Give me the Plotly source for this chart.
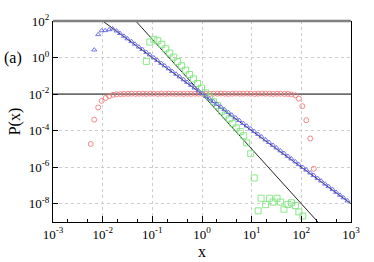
import numpy as np
import plotly.graph_objects as go

# ---------------- data (log10 values) ----------------
red_logx = [-2.24, -2.17, -2.09, -2.02, -1.94, -1.87, -1.79,
            -1.72, -1.64, -1.57, -1.49, -1.42, -1.34, -1.27, -1.19, -1.12, -1.04,
            -0.97, -0.89, -0.82, -0.74, -0.67, -0.59, -0.52, -0.44, -0.37, -0.29,
            -0.22, -0.14, -0.07, 0.01, 0.08, 0.16, 0.23, 0.31, 0.38, 0.46,
            0.53, 0.61, 0.68, 0.76, 0.83, 0.91, 0.98, 1.06, 1.13, 1.21,
            1.28, 1.36, 1.43, 1.51, 1.58, 1.66, 1.73,
            1.80, 1.88, 1.95, 2.02, 2.10, 2.18, 2.25]
red_logy = [-4.73, -3.40, -2.73, -2.37, -2.21, -2.11, -2.04,
            -2.01, -2.00, -1.99, -1.99, -1.98, -1.99, -1.98, -1.98, -1.99, -1.98,
            -1.98, -1.99, -1.98, -1.99, -1.98, -1.98, -1.99, -1.98, -1.99, -1.98,
            -1.99, -1.98, -1.98, -1.99, -1.98, -1.99, -1.98, -1.98, -1.97, -1.98,
            -1.99, -1.98, -1.97, -1.98, -1.98, -1.97, -1.98, -1.99, -1.98, -1.97,
            -1.98, -1.98, -1.99, -1.98, -1.98, -1.99, -1.99,
            -2.02, -2.07, -2.25, -2.66, -3.43, -4.43, -6.09]

blue_logx = [-2.17, -2.09, -2.02, -1.95, -1.87, -1.80, -1.72, -1.65, -1.57, -1.50,
             -1.42, -1.35, -1.27, -1.20, -1.12, -1.05, -0.97, -0.90, -0.82, -0.75,
             -0.67, -0.60, -0.52, -0.45, -0.37, -0.30, -0.22, -0.15, -0.07, 0.00,
             0.08, 0.15, 0.23, 0.30, 0.38, 0.45, 0.53, 0.60, 0.68, 0.75,
             0.83, 0.90, 0.98, 1.05, 1.13, 1.20, 1.28, 1.35, 1.43, 1.50,
             1.58, 1.65, 1.73, 1.80, 1.88, 1.95, 2.03, 2.10, 2.18, 2.25,
             2.33, 2.40, 2.48, 2.55, 2.63, 2.70, 2.78, 2.85, 2.93]
blue_logy = [0.42, 1.26, 1.47, 1.48, 1.53, 1.58, 1.46, 1.32, 1.17, 1.03,
             0.88, 0.74, 0.58, 0.45, 0.29, 0.15, -0.01, -0.15, -0.31, -0.45,
             -0.61, -0.75, -0.91, -1.05, -1.21, -1.35, -1.51, -1.66, -1.82, -1.97,
             -2.13, -2.26, -2.41, -2.55, -2.70, -2.84, -3.00, -3.14, -3.30, -3.44,
             -3.60, -3.74, -3.90, -4.04, -4.20, -4.34, -4.50, -4.64, -4.80, -4.94,
             -5.10, -5.24, -5.40, -5.54, -5.70, -5.85, -6.01, -6.15, -6.31, -6.45,
             -6.61, -6.75, -6.92, -7.06, -7.22, -7.37, -7.53, -7.67, -7.84]

green_logx = [-1.12, -1.05, -0.97, -0.89, -0.81, -0.73, -0.65, -0.57, -0.49, -0.41,
              -0.33, -0.25, -0.17, -0.09, -0.01, 0.07, 0.15, 0.23, 0.31, 0.39,
              0.47, 0.55, 0.62, 0.69, 0.77, 0.84, 0.90, 0.98, 1.05,
              1.13, 1.19, 1.28, 1.36, 1.43, 1.51, 1.58, 1.65, 1.73, 1.80,
              1.88, 1.95, 2.03]
green_logy = [-0.21, 0.85, 1.00, 0.92, 0.72, 0.48, 0.25, 0.02, -0.22, -0.45,
              -0.69, -0.93, -1.17, -1.42, -1.68, -1.93, -2.17, -2.42, -2.62, -2.94,
              -3.15, -3.35, -3.60, -3.85, -4.05, -4.28, -4.67, -5.26, -6.59,
              -8.39, -7.70, -8.05, -7.70, -7.91, -7.70, -7.91, -8.30, -8.04, -7.95,
              -8.10, -8.45, -8.67]

# reference power laws P = A x^s
fit_amplitude = 0.01
fit_exponents = [0.0, -2.0, -3.0]
fit_colors = ["#6e6e6e", "#222222", "#222222"]
fit_widths = [1.6, 1.0, 1.0]
x_decades = [-3, -2, -1, 0, 1, 2, 3]
y_decades = [2, 0, -2, -4, -6, -8]

# ---------------------------------------------------------------------------
def p10(v):
    return [10.0 ** t for t in v]

fig = go.Figure()

xfit = np.logspace(-3, 3, 200)
for s, c, w in zip(fit_exponents, fit_colors, fit_widths):
    fig.add_trace(go.Scatter(x=xfit, y=fit_amplitude * xfit ** s, mode="lines",
                             line=dict(color=c, width=w), showlegend=False,
                             hoverinfo="skip"))

fig.add_trace(go.Scatter(x=p10(red_logx), y=p10(red_logy), mode="markers",
                         marker=dict(symbol="circle-open", size=5, color="#f27a7a",
                                     line=dict(width=0.9)), showlegend=False))
fig.add_trace(go.Scatter(x=p10(green_logx), y=p10(green_logy), mode="markers",
                         marker=dict(symbol="square-open", size=6, color="#7de67d",
                                     line=dict(width=0.9)), showlegend=False))
fig.add_trace(go.Scatter(x=p10(blue_logx), y=p10(blue_logy), mode="markers",
                         marker=dict(symbol="triangle-up-open", size=4.5, color="#6464ee",
                                     line=dict(width=0.9)), showlegend=False))

serif = "Liberation Serif"

fig.update_xaxes(type="log", range=[-3, 3],
                 tickvals=p10(x_decades),
                 ticktext=["10<sup>%d</sup>" % d for d in x_decades],
                 ticks="inside", ticklen=6, tickcolor="#000",
                 minor=dict(ticks="inside", ticklen=3, tickcolor="#000", showgrid=False),
                 showline=True, linecolor="#000", linewidth=1.2,
                 showgrid=True, gridcolor="#cccccc", griddash="dot", gridwidth=1,
                 zeroline=False,
                 tickfont=dict(family=serif, size=13, color="#000"))
fig.update_yaxes(type="log", range=[-9, 2],
                 tickvals=p10(y_decades),
                 ticktext=["10<sup>%d</sup>" % d for d in y_decades],
                 ticks="inside", ticklen=5, tickcolor="#000",
                 showline=True, linecolor="#000", linewidth=1.2, mirror=True,
                 showgrid=True, gridcolor="#cccccc", griddash="dot", gridwidth=1,
                 zeroline=False,
                 tickfont=dict(family=serif, size=13, color="#000"))

fig.add_shape(type="line", xref="paper", yref="paper", x0=0, x1=1, y0=1, y1=1,
              line=dict(color="#808080", width=2.5))

fig.add_annotation(text="P(x)", xref="paper", yref="paper", x=-0.165, y=0.5,
                   showarrow=False, textangle=-90,
                   font=dict(family=serif, size=16, color="#000"))
fig.add_annotation(text="x", xref="paper", yref="paper", x=0.5, y=-0.145,
                   yanchor="middle", showarrow=False,
                   font=dict(family=serif, size=16, color="#000"))
fig.add_annotation(text="(a)", xref="paper", yref="paper", x=-0.17, y=0.87,
                   showarrow=False, font=dict(family=serif, size=16, color="#000"))

fig.update_layout(width=374, height=262,
                  margin=dict(l=53, r=23, t=15, b=40),
                  paper_bgcolor="white", plot_bgcolor="white")

fig.write_html("out.html", config={"displayModeBar": False},
               post_script="document.body.style.margin='0';document.body.style.overflow='hidden';")
